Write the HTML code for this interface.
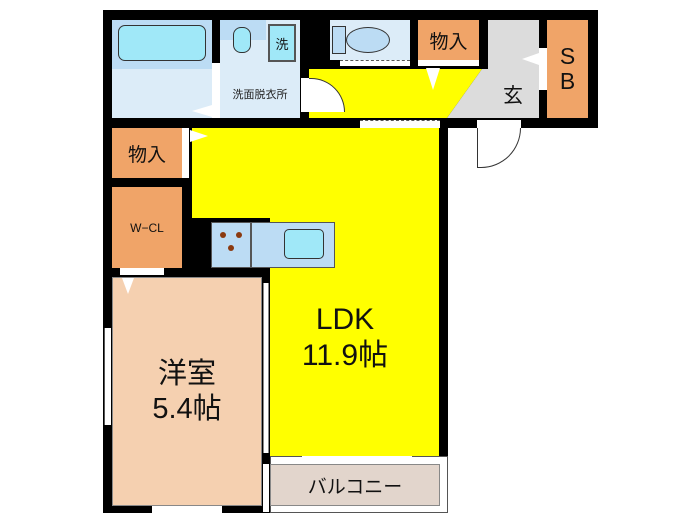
<!DOCTYPE html>
<html><head><meta charset="utf-8"><style>
body{margin:0;width:700px;height:525px;background:#fff;position:relative;overflow:hidden;font-family:"Liberation Sans","Noto Sans CJK JP",sans-serif}
div{position:absolute;box-sizing:border-box}
.t{display:flex;align-items:center;justify-content:center;color:#111}
.o{background:#f0a468}
.lb{background:#dcecf8}
.w{background:#fff}
</style></head><body>
<div style="left:103px;top:10px;width:495px;height:118px;background:#000"></div>
<div style="left:103px;top:120px;width:345px;height:393px;background:#000"></div>
<div style="left:270px;top:456px;width:178px;height:57px;background:#fff;border:1px solid #555"></div>
<div style="left:270px;top:464px;width:170px;height:42px;background:#e2d5cc;border:1px solid #888" class="t"><span style="font-size:19px">バルコニー</span></div>
<div class="lb" style="left:112px;top:20px;width:100px;height:98px"></div>
<div style="left:112px;top:20px;width:100px;height:49px;background:#bcdcf4"></div>
<div style="left:118px;top:25px;width:88px;height:36px;background:#a0e8f8;border:1.5px solid #333;border-radius:7px"></div>
<div class="w" style="left:212px;top:63px;width:8px;height:55px"></div>
<div style="left:192px;top:105px;width:0;height:0;border-top:6px solid transparent;border-bottom:6px solid transparent;border-right:20px solid #fff"></div>
<div class="lb" style="left:220px;top:20px;width:80px;height:98px;font-size:11px;padding-top:66px;text-align:center;color:#222">洗面脱衣所</div>
<div style="left:220px;top:20px;width:46px;height:20px;background:#bcdcf4"></div>
<div style="left:233px;top:27px;width:18px;height:26px;background:#a0e8f8;border:1.5px solid #333;border-radius:8px"></div>
<div class="t" style="left:268px;top:24px;width:28px;height:38px;background:#a0e8f8;border:2px solid #555;font-size:13px">洗</div>
<div style="left:309px;top:69px;width:180px;height:49px;background:#ffff00;clip-path:polygon(0 0,173px 0,138px 49px,0 49px)"></div>
<div class="w" style="left:301px;top:78px;width:8px;height:34px"></div>
<div style="left:309px;top:78px;width:36px;height:34px;background:#fff;border-top:1px solid #333;border-right:1px solid #333;border-radius:0 34px 0 0"></div>
<div class="lb" style="left:330px;top:20px;width:80px;height:40px"></div>
<div style="left:332px;top:26px;width:14px;height:28px;background:#bcdcf4;border:1px solid #333"></div>
<div style="left:346px;top:27px;width:44px;height:26px;background:#bcdcf4;border:1.5px solid #333;border-radius:50%"></div>
<div class="w" style="left:340px;top:60px;width:70px;height:6px;border-top:1px dashed #555"></div>
<div class="o t" style="left:418px;top:20px;width:61px;height:40px;font-size:19px">物入</div>
<div class="w" style="left:418px;top:60px;width:61px;height:6px"></div>
<div style="left:426px;top:68px;width:0;height:0;border-left:7px solid transparent;border-right:7px solid transparent;border-top:22px solid #fff"></div>
<div style="left:447px;top:20px;width:92px;height:98px;background:#dcdcdc;clip-path:polygon(41px 0,92px 0,92px 98px,0 98px,35px 49px,41px 49px)"></div>
<div class="t" style="left:498px;top:78px;width:30px;height:30px;font-size:20px">玄</div>
<div class="w" style="left:539px;top:48px;width:8px;height:42px"></div>
<div style="left:522px;top:53px;width:0;height:0;border-top:6px solid transparent;border-bottom:6px solid transparent;border-right:17px solid #fff"></div>
<div class="o t" style="left:547px;top:20px;width:41px;height:98px;font-size:23px;line-height:1.1;text-align:center">S<br>B</div>
<div class="w" style="left:477px;top:120px;width:44px;height:8px"></div>
<div style="left:477px;top:128px;width:44px;height:40px;border-left:1px solid #333;border-bottom:1px solid #333;border-right:1px solid #333;border-radius:0 0 40px 0"></div>
<div style="left:192px;top:128px;width:247px;height:90px;background:#ffff00"></div>
<div style="left:270px;top:218px;width:169px;height:238px;background:#ffff00"></div>
<div style="left:335px;top:218px;width:10px;height:50px;background:#ffff00"></div>
<div class="w" style="left:360px;top:120px;width:80px;height:8px;border-top:1px dashed #555"></div>
<div class="t" style="left:285px;top:296px;width:120px;height:84px;font-size:30px;line-height:1.2;text-align:center">LDK<br>11.9帖</div>
<div class="w" style="left:302px;top:456px;width:110px;height:8px"></div>
<div style="left:211px;top:222px;width:40px;height:46px;background:#bcdcf4;border:1px solid #555"></div>
<div style="left:220px;top:232px;width:6px;height:6px;border-radius:50%;background:#8b3a10"></div>
<div style="left:236px;top:232px;width:6px;height:6px;border-radius:50%;background:#8b3a10"></div>
<div style="left:228px;top:245px;width:6px;height:6px;border-radius:50%;background:#8b3a10"></div>
<div style="left:251px;top:222px;width:84px;height:46px;background:#bcdcf4;border:1px solid #555"></div>
<div style="left:284px;top:229px;width:40px;height:30px;background:#a0e8f8;border:1.5px solid #333;border-radius:5px"></div>
<div class="o t" style="left:112px;top:128px;width:70px;height:50px;font-size:19px">物入</div>
<div class="w" style="left:182px;top:128px;width:7px;height:50px"></div>
<div style="left:190px;top:130px;width:0;height:0;border-top:6px solid transparent;border-bottom:6px solid transparent;border-left:18px solid #fff"></div>
<div class="o t" style="left:112px;top:187px;width:70px;height:81px;font-size:12px">W−CL</div>
<div class="w" style="left:120px;top:268px;width:44px;height:7px"></div>
<div class="t" style="left:112px;top:277px;width:150px;height:229px;background:#f5d0b0;font-size:29px;line-height:1.2;text-align:center;border:1px solid #888"><span>洋室<br>5.4帖</span></div>
<div style="left:122px;top:278px;width:0;height:0;border-left:6px solid transparent;border-right:6px solid transparent;border-top:16px solid #fff"></div>
<div class="w" style="left:104px;top:328px;width:7px;height:97px;border-left:1px solid #555"></div>
<div class="w" style="left:152px;top:506px;width:70px;height:7px"></div>
<div class="w" style="left:263px;top:283px;width:6px;height:170px;border-left:1px solid #888;border-right:1px solid #888"></div>
<div class="w" style="left:263px;top:464px;width:6px;height:48px"></div>
</body></html>
